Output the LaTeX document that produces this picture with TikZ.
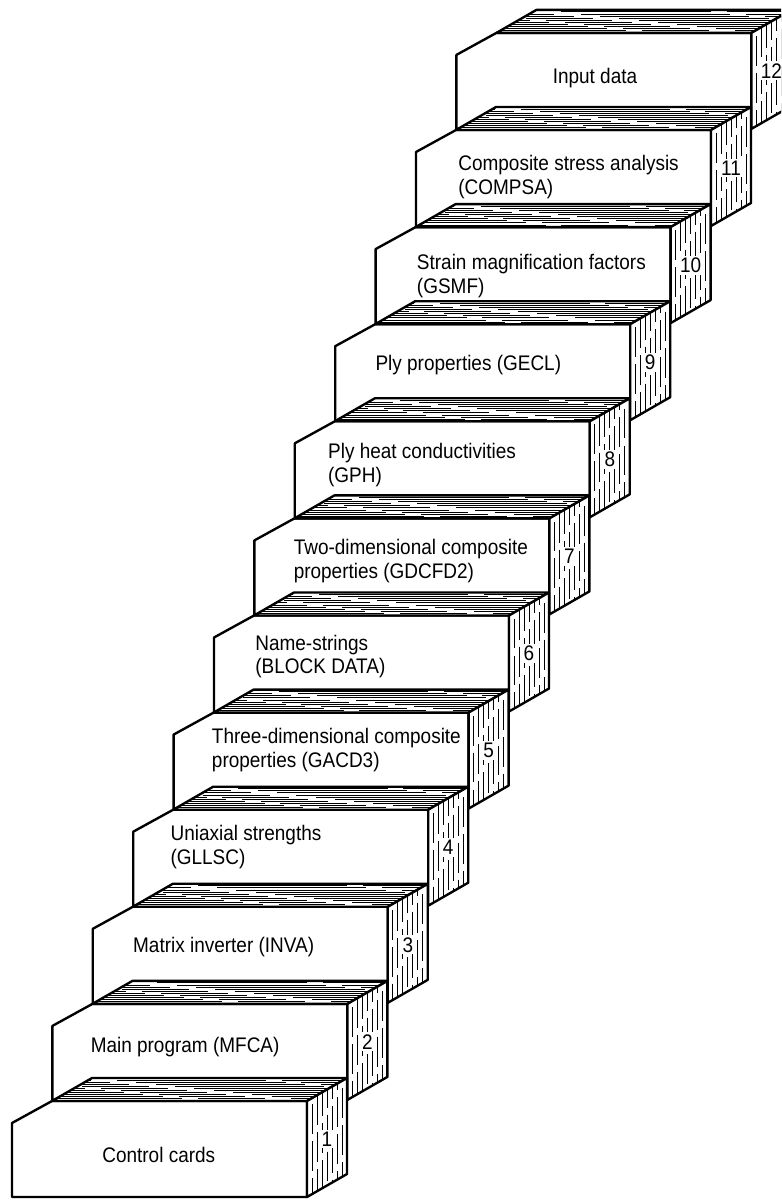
\documentclass[tikz,border=0pt]{standalone}
\usepackage{fontspec}
\setmainfont{Liberation Sans}[FakeStretch=0.9]
\begin{document}
\begin{tikzpicture}[x=0.02cm, y=-0.02cm,
    deckface/.style={draw, fill=white, line width=1.35pt, line join=round},
    cardlines/.style={line width=0.55pt},
    decklabel/.style={anchor=west, align=left, inner sep=0pt, font=\fontsize{12}{13.6}\selectfont},
    decknum/.style={fill=white, inner sep=1.2pt, font=\fontsize{12}{13}\selectfont}]
  \useasboundingbox (0,0) rectangle (781,1200);
  \clip (0,0) rectangle (781,1200);
  \foreach \i/\tx/\ty/\txt in {
      12/96/45/{Input data},
      11/42/47/{Composite stress analysis\\(COMPSA)},
      10/41/49/{Strain magnification factors\\(GSMF)},
      9/40/41/{Ply properties (GECL)},
      8/33/44/{Ply heat conductivities\\(GPH)},
      7/39/43/{Two-dimensional composite\\properties (GDCFD2)},
      6/41/41/{Name-strings\\(BLOCK DATA)},
      5/38/37/{Three-dimensional composite\\properties (GACD3)},
      4/37/37/{Uniaxial strengths\\(GLLSC)},
      3/40/40/{Matrix inverter (INVA)},
      2/38/43/{Main program (MFCA)},
      1/90/54/{Control cards}}{
    \pgfmathsetmacro\xa{12+40.4*(\i-1)}
    \pgfmathsetmacro\ya{1101-97.1*(\i-1)}
    \pgfmathsetmacro\xb{\xa+295}
    \pgfmathsetmacro\yb{\ya+96}
    % front of the deck
    \draw[deckface] (\xa,\yb) -- (\xa,\ya+22) -- (\xa+40,\ya) -- (\xb,\ya) -- (\xb,\yb) -- cycle;
    % top of the deck, card edges
    \draw[deckface] (\xa+40,\ya) -- ++(40,-23) -- (\xb+40,\ya-23) -- (\xb,\ya) -- cycle;
    \begin{scope}
      \clip (\xa+40,\ya) -- ++(40,-23) -- (\xb+40,\ya-23) -- (\xb,\ya) -- cycle;
      \foreach \k in {1,...,10}
        \draw[cardlines, dash pattern=on 85pt off 9pt on 38pt off 15pt, dash phase=\k*11pt]
          (\xa+40,\ya-2.1*\k) -- (\xb+40,\ya-2.1*\k);
    \end{scope}
    % side of the deck
    \draw[deckface] (\xb,\ya) -- ++(40,-23) -- ++(0,96) -- (\xb,\yb) -- cycle;
    \begin{scope}
      \clip (\xb,\ya) -- ++(40,-23) -- ++(0,96) -- (\xb,\yb) -- cycle;
      \foreach \m in {1,...,7}
        \draw[cardlines, dash pattern=on 17pt off 4pt, dash phase=\m*5pt]
          (\xb+5*\m,\ya-25) -- (\xb+5*\m,\yb);
    \end{scope}
    \node[decknum] (num\i) at (\xb+20,\ya+38) {\i};
    \node[decklabel] (lbl\i) at (\xa+\tx,\ya+\ty) {\txt};
  }
\end{tikzpicture}
\end{document}
